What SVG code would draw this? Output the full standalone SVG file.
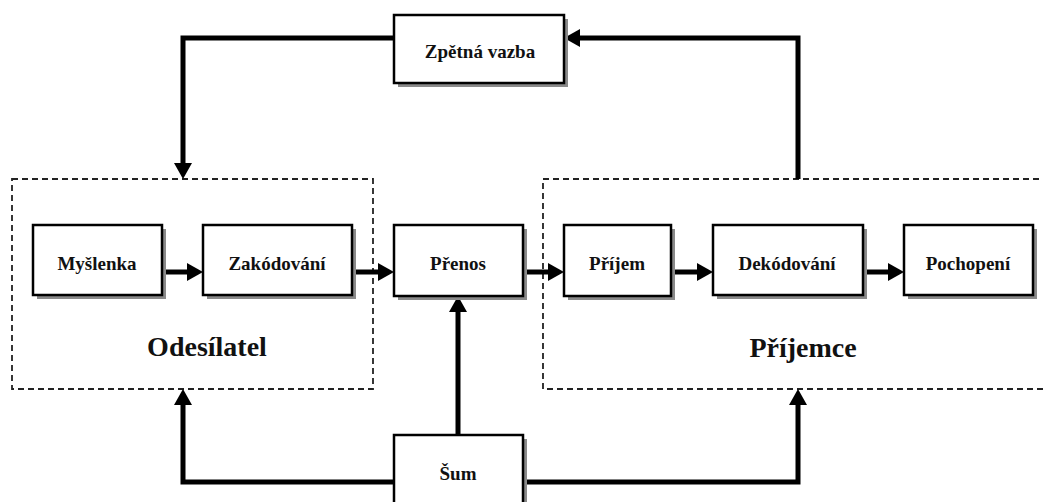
<svg xmlns="http://www.w3.org/2000/svg" width="1043" height="502" viewBox="0 0 1043 502">
<style>
.box{fill:#fff;stroke:#000;stroke-width:2.5}
.shadow{fill:#8a8a8a}
.lbl{font-family:'Liberation Serif','Times New Roman',serif;font-weight:bold;font-size:19px;fill:#111;text-anchor:middle}
.big{font-family:'Liberation Serif','Times New Roman',serif;font-weight:bold;font-size:28px;fill:#111;text-anchor:middle}
.group{fill:none;stroke:#222;stroke-width:1.8;stroke-dasharray:6,4}
.conn{fill:none;stroke:#000;stroke-width:5;marker-end:url(#ah)}
</style>
<defs>
<marker id="ah" markerUnits="userSpaceOnUse" markerWidth="17" markerHeight="18" refX="0" refY="9" orient="auto">
<path d="M0,0 L16,9 L0,18 z" fill="#000"/>
</marker>
</defs>
<rect width="1043" height="502" fill="#fff"/>
<g id="odesilatel">
<rect class="group" x="12" y="179" width="361" height="210"/>
<text class="big" x="207" y="356">Odesílatel</text>
</g>
<g id="prijemce">
<rect class="group" x="543" y="179" width="520" height="210"/>
<text class="big" x="803" y="357">Příjemce</text>
</g>
<g id="connectors">
<path class="conn" d="M162,272 H187"/>
<path class="conn" d="M352,272 H378"/>
<path class="conn" d="M523,272 H548"/>
<path class="conn" d="M671,272 H697"/>
<path class="conn" d="M863,272 H888"/>
<path class="conn" d="M798,179 V38 H580"/>
<path class="conn" d="M394,38 H183 V163"/>
<path class="conn" d="M458,435 V312"/>
<path class="conn" d="M394,482 H183 V405"/>
<path class="conn" d="M523,482 H798 V405"/>
</g>
<g id="zpetna-vazba">
<rect class="shadow" x="398" y="19" width="170" height="68"/>
<rect class="box" x="394" y="15" width="170" height="68"/>
<text class="lbl" x="480" y="58">Zpětná vazba</text>
</g>
<g id="myslenka">
<rect class="shadow" x="37" y="229" width="129" height="70"/>
<rect class="box" x="33" y="225" width="129" height="70"/>
<text class="lbl" x="97" y="270">Myšlenka</text>
</g>
<g id="zakodovani">
<rect class="shadow" x="207" y="229" width="149" height="70"/>
<rect class="box" x="203" y="225" width="149" height="70"/>
<text class="lbl" x="277" y="270">Zakódování</text>
</g>
<g id="prenos">
<rect class="shadow" x="398" y="229" width="129" height="71"/>
<rect class="box" x="394" y="225" width="129" height="71"/>
<text class="lbl" x="458" y="270">Přenos</text>
</g>
<g id="prijem">
<rect class="shadow" x="568" y="229" width="107" height="71"/>
<rect class="box" x="564" y="225" width="107" height="71"/>
<text class="lbl" x="617" y="270">Příjem</text>
</g>
<g id="dekodovani">
<rect class="shadow" x="717" y="229" width="150" height="70"/>
<rect class="box" x="713" y="225" width="150" height="70"/>
<text class="lbl" x="787" y="270">Dekódování</text>
</g>
<g id="pochopeni">
<rect class="shadow" x="908" y="229" width="129" height="70"/>
<rect class="box" x="904" y="225" width="129" height="70"/>
<text class="lbl" x="968" y="270">Pochopení</text>
</g>
<g id="sum">
<rect class="shadow" x="398" y="439" width="129" height="80"/>
<rect class="box" x="394" y="435" width="129" height="80"/>
<text class="lbl" x="458" y="480">Šum</text>
</g>
</svg>
